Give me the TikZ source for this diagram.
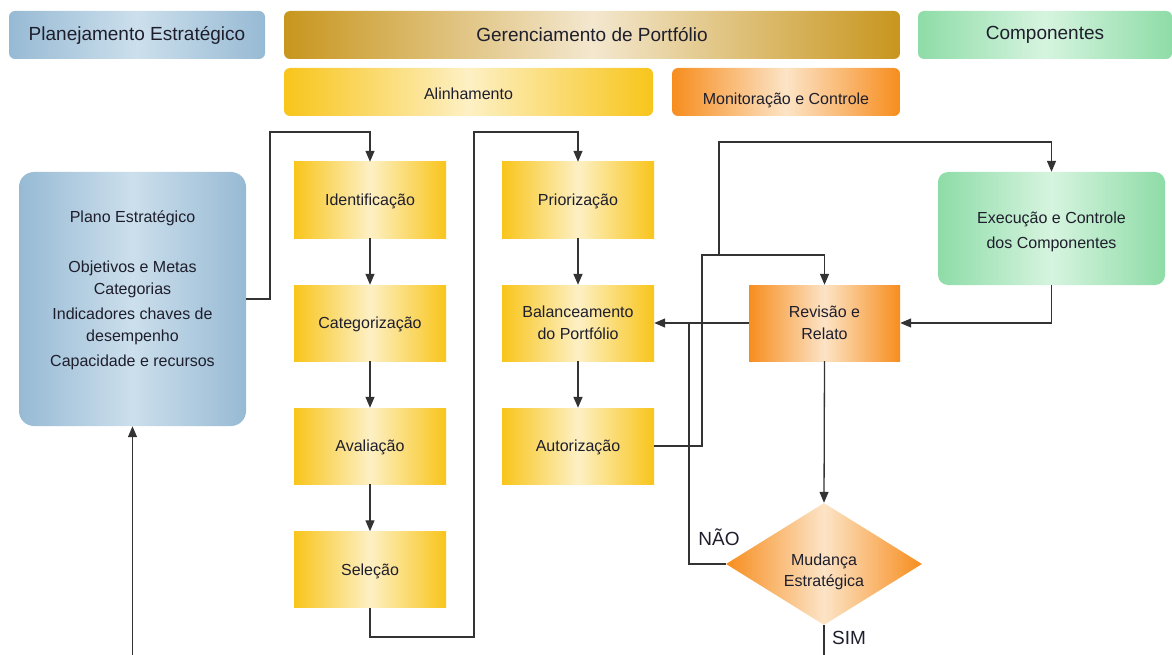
\documentclass[tikz,border=0pt]{standalone}
\usepackage{fontspec}
\setmainfont{Liberation Sans}
\usetikzlibrary{shapes.geometric,arrows.meta}
\definecolor{txt}{HTML}{1E1E2C}
\definecolor{linec}{HTML}{333333}
\definecolor{bedge}{HTML}{97BAD4}
\definecolor{bmid}{HTML}{CCDFEC}
\definecolor{gedge}{HTML}{C8961E}
\definecolor{gmid}{HTML}{F3E7CE}
\definecolor{cedge}{HTML}{8EDCA7}
\definecolor{cmid}{HTML}{D6F4DF}
\definecolor{yedge}{HTML}{F8C51B}
\definecolor{ymid}{HTML}{FDF0C4}
\definecolor{oedge}{HTML}{F78D1E}
\definecolor{omid}{HTML}{FCE4C6}
\tikzset{
  base/.style={inner sep=0pt, text=txt, align=center},
  hdr/.style={base, rounded corners=6pt, minimum height=48pt, font=\fontsize{19}{22}\selectfont},
  subhdr/.style={base, rounded corners=6pt, minimum height=48pt, font=\fontsize{16}{19}\selectfont},
  bluefill/.style={left color=bedge, right color=bedge, middle color=bmid},
  goldfill/.style={left color=gedge, right color=gedge, middle color=gmid},
  greenfill/.style={left color=cedge, right color=cedge, middle color=cmid},
  yellowfill/.style={left color=yedge, right color=yedge, middle color=ymid},
  orangefill/.style={left color=oedge, right color=oedge, middle color=omid},
  ybox/.style={base, yellowfill, minimum width=152pt, minimum height=76pt, font=\fontsize{16}{22}\selectfont},
  conn/.style={draw=linec, line width=1.3pt},
  arr/.style={conn, -{Triangle[length=11pt,width=9pt]}},
  lbl/.style={inner sep=0pt, text=txt, font=\fontsize{19}{22}\selectfont},
}
\begin{document}
\begin{tikzpicture}[x=1pt,y=-1pt]
\useasboundingbox (0,0) rectangle (1172,655);
% headers
\node[hdr, bluefill, minimum width=256pt] (ph) at (137,35) {Planejamento Estratégico};
\node[hdr, goldfill, minimum width=616pt] (gh) at (592,35) {Gerenciamento de Portfólio};
\node[hdr, greenfill, minimum width=254pt] (ch) at (1045,35) {Componentes};
\node[subhdr, yellowfill, minimum width=369pt] (al) at (468.5,92) {\raisebox{0pt}[\dimexpr\height+3pt\relax][\depth]{Alinhamento}};
\node[subhdr, orangefill, minimum width=228pt] (mc) at (786,92) {\raisebox{0pt}[\dimexpr\height+16pt\relax][\depth]{Monitoração e Controle}};
% plano estrategico
\node[base, bluefill, rounded corners=15pt, minimum width=227pt, minimum height=254pt] (plano) at (132.5,299)
  {\raisebox{0pt}[\height][\dimexpr\depth+18pt\relax]{\parbox{220pt}{\centering\fontsize{16}{22}\selectfont Plano Estratégico\\[28pt] Objetivos e Metas\\ Categorias\\[3pt] Indicadores chaves de\\ desempenho\\[3pt] Capacidade e recursos}}};
% column 1
\node[ybox] (ident) at (370,200) {\raisebox{0pt}[\dimexpr\height+3pt\relax][\depth]{Identificação}};
\node[ybox] (categ) at (370,323) {\raisebox{0pt}[\dimexpr\height+3pt\relax][\depth]{Categorização}};
\node[ybox] (aval) at (370,446) {\raisebox{0pt}[\dimexpr\height+3pt\relax][\depth]{Avaliação}};
\node[ybox] (selec) at (370,569.5) {\raisebox{0pt}[\dimexpr\height+3pt\relax][\depth]{Seleção}};
% column 2
\node[ybox] (prior) at (578,200) {\raisebox{0pt}[\dimexpr\height+3pt\relax][\depth]{Priorização}};
\node[ybox] (bal) at (578,323) {Balanceamento\\do Portfólio};
\node[ybox] (aut) at (578,446) {\raisebox{0pt}[\dimexpr\height+3pt\relax][\depth]{Autorização}};
% right side
\node[base, orangefill, minimum width=151pt, minimum height=76pt, font=\fontsize{16}{22}\selectfont] (rev) at (824.5,323) {Revisão e\\Relato};
\node[base, greenfill, rounded corners=10pt, minimum width=227pt, minimum height=113pt] (exec) at (1051.5,228.5)
  {\raisebox{0pt}[\dimexpr\height+6pt\relax][\depth]{\parbox{220pt}{\centering\fontsize{16}{25}\selectfont Execução e Controle\\dos Componentes}}};
\node[base, diamond, orangefill, minimum width=196pt, minimum height=122pt, aspect=1.6] (dia) at (824,564)
  {\raisebox{0pt}[\dimexpr\height+15pt\relax][\depth]{\parbox{110pt}{\centering\fontsize{16}{21}\selectfont Mudança\\Estratégica}}};
% coordinates
\coordinate (k1) at (270,132);
\coordinate (k2) at (474,637);
\coordinate (k3) at (474,132);
\coordinate (k4) at (702,255);
\coordinate (k5) at (719,255);
\coordinate (k6) at (1051.5,142);
\coordinate (k7) at (689,323);
\coordinate (k8) at (824,655);
\coordinate (k9) at (132.5,655);
% connectors
\draw[arr] (plano.east) -| (k1) -| (ident.north);
\draw[arr] (ident) -- (categ);
\draw[arr] (categ) -- (aval);
\draw[arr] (aval) -- (selec);
\draw[arr] (selec.south) |- (k2) -- (k3) -| (prior.north);
\draw[arr, line width=1.6pt] (prior) -- (bal);
\draw[arr, line width=1.6pt] (bal) -- (aut);
\draw[arr] (aut.east) -| (k4) -| (rev.north);
\draw[arr] (k5) |- (k6) -- (exec.north);
\draw[arr] (exec.south) |- (rev.east);
\draw[arr] (rev.west) -- (bal.east);
\draw[conn] (dia.west) -| (k7);
\draw[arr] (rev.south) -- (dia.north);
\draw[conn] (dia.south) -- (k8);
\draw[arr] (k9) -- (plano.south);
% labels
\node[lbl] (nao) at (719,537) {NÃO};
\node[lbl] (sim) at (849,638) {SIM};
\end{tikzpicture}
\end{document}
